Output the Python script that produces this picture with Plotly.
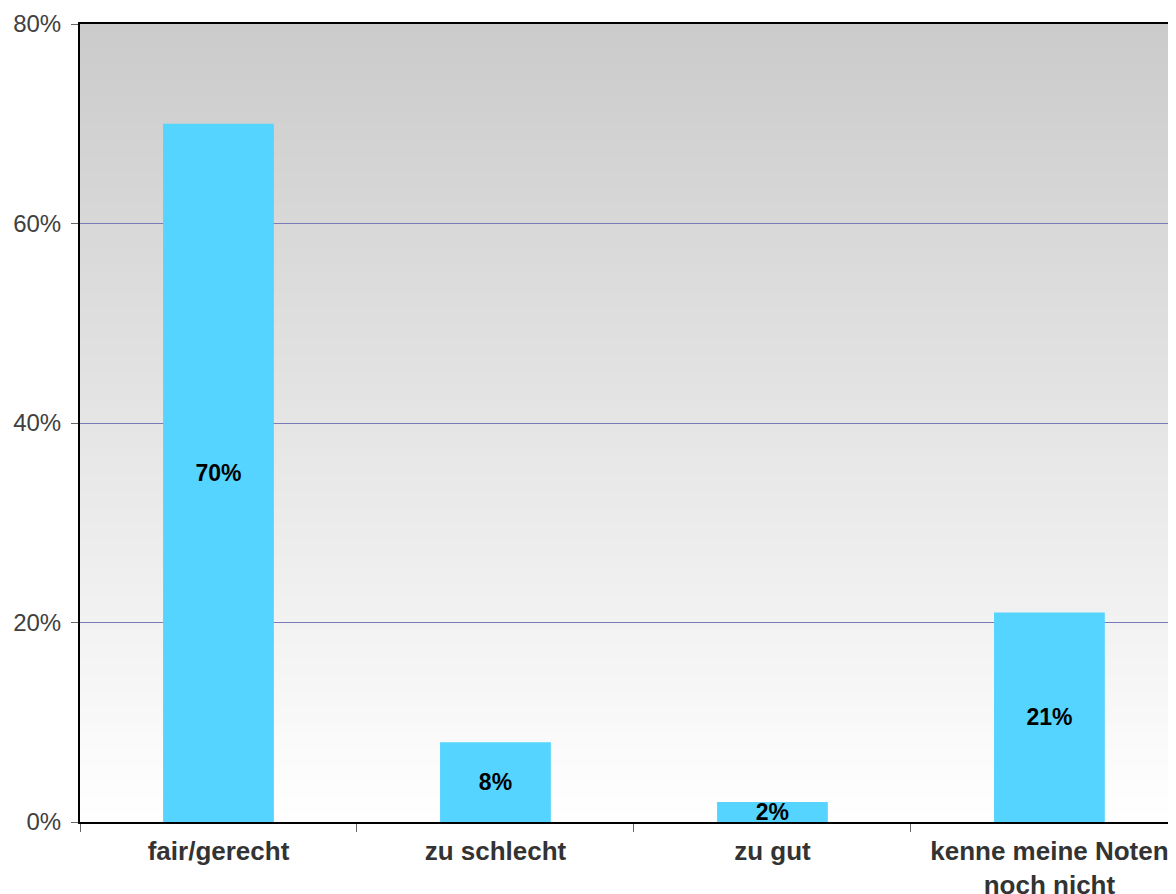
import plotly.graph_objects as go

categories = ["fair/gerecht", "zu schlecht", "zu gut", "kenne meine Noten<br>noch nicht"]
values = [70, 8, 2, 21]
labels = ["70%", "8%", "2%", "21%"]
y_ticks = [0, 20, 40, 60, 80]
y_tick_text = ["0%", "20%", "40%", "60%", "80%"]

FONT = "Liberation Sans, Arial, Helvetica, sans-serif"

fig = go.Figure()
fig.add_trace(go.Bar(
    x=categories, y=values, text=labels,
    marker=dict(color="#55d4ff", line=dict(width=0)),
    width=0.4,
    textposition="inside", insidetextanchor="middle", constraintext="none",
    textfont=dict(family=FONT, size=23, color="#000000", weight="bold"),
    textangle=0,
    hoverinfo="skip",
))

# vertical gradient background (decoration), overlapping rects to avoid seams
n = 200
shapes = []
for i in range(n):
    t = i / (n - 1)
    c0 = (203, 203, 203)
    c1 = (255, 255, 255)
    col = tuple(int(round(c0[k] + (c1[k] - c0[k]) * t)) for k in range(3))
    shapes.append(dict(
        type="rect", xref="paper", yref="paper",
        x0=0, x1=1, y0=0, y1=1 - i / n,
        fillcolor="rgb(%d,%d,%d)" % col, line=dict(width=0), layer="below",
    ))

fig.update_layout(
    width=1168, height=886,
    margin=dict(l=72, r=0, t=16, b=72),
    paper_bgcolor="white", plot_bgcolor="rgba(0,0,0,0)",
    shapes=shapes, showlegend=False,
    font=dict(family=FONT),
)
fig.update_xaxes(
    type="category", range=[-0.5, 3.457], automargin=False,
    showline=True, linecolor="black", linewidth=2, mirror=True,
    ticks="outside", tickson="boundaries", ticklen=8, tickcolor="#666666", tickwidth=1,
    tickfont=dict(family=FONT, size=26, color="#333333", weight="bold"),
    ticklabelstandoff=5,
    showgrid=False, fixedrange=True,
)
fig.update_yaxes(
    range=[0, 80], tickvals=y_ticks, ticktext=y_tick_text, automargin=False,
    showline=True, linecolor="black", linewidth=2,
    ticks="outside", ticklen=7, tickcolor="#666666", tickwidth=1,
    tickfont=dict(family=FONT, size=24, color="#404040"),
    ticklabelstandoff=5,
    showgrid=True, gridcolor="#7a7ab8", gridwidth=1,
    zeroline=False, fixedrange=True,
)
fig.write_html("out.html", config={"displayModeBar": False})
